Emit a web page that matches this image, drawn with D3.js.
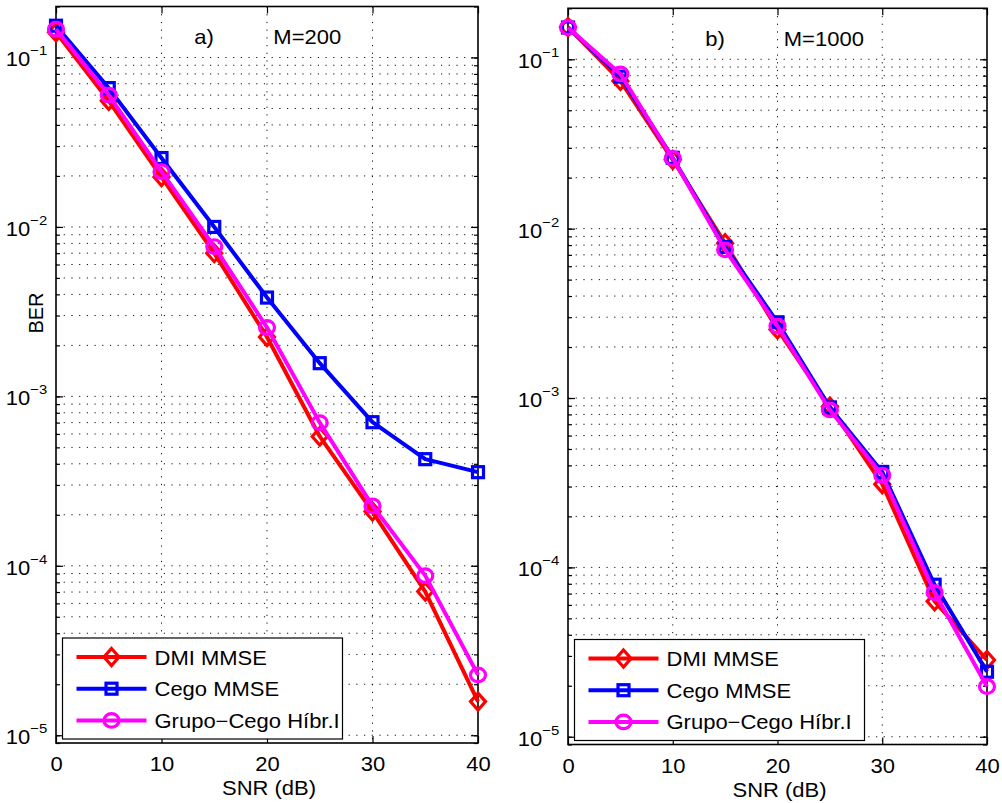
<!DOCTYPE html>
<html>
<head>
<meta charset="utf-8">
<script src="https://cdn.jsdelivr.net/npm/d3@7/dist/d3.min.js"></script>
<style>
  body { margin: 0; background: #fff; }
  svg { font-family: "Liberation Sans", Arial, Helvetica, sans-serif; }
</style>
</head>
<body>
<svg id="chart" width="1002" height="803"></svg>
<script>
// SNR values (dB)
var snr = [0, 5, 10, 15, 20, 25, 30, 35, 40];
var xTicks = [0, 10, 20, 30, 40];
var yMajor = [1e-5, 1e-4, 1e-3, 1e-2, 1e-1];
var seriesNames = ["DMI MMSE", "Cego MMSE", "Grupo\u2212Cego H\u00edbr.I"];

// a) M=200
var dmi200   = [0.141, 0.0555, 0.0197, 0.0070, 0.00224, 0.00058, 0.000209, 7.05e-5, 1.58e-5];
var cego200  = [0.154, 0.066, 0.0255, 0.0100, 0.00383, 0.00157, 0.000704, 0.000426, 0.000357];
var grupo200 = [0.147, 0.060, 0.0212, 0.00766, 0.00255, 0.00070, 0.000226, 8.75e-5, 2.27e-5];

// b) M=1000
var dmi1000   = [0.155, 0.0745, 0.0255, 0.0082, 0.00254, 0.00089, 0.00031, 6.3e-5, 2.84e-5];
var cego1000  = [0.154, 0.079, 0.0262, 0.0078, 0.0028, 0.00088, 0.000366, 7.9e-5, 2.42e-5];
var grupo1000 = [0.154, 0.0819, 0.026, 0.0075, 0.00266, 0.00085, 0.00035, 7.1e-5, 1.98e-5];

var colors = ["#ff0000", "#0000ff", "#ff00ff"];
var shapes = ["diamond", "square", "circle"];

var svg = d3.select("#chart");

// minor log values for the grid / minor ticks
var yMinor = [];
yMajor.forEach(function(m) {
    for (var k = 1; k <= 9; k++) yMinor.push(k * m);
});
yMinor.push(9e-6);

function stretch(sel) {
    // the source figure is slightly wider than tall
    return sel.attr("transform", "scale(1.1,1)");
}

function marker(g, shape, color, cx, cy) {
    if (shape == "diamond") {
        g.append("path")
            .attr("d", "M" + cx + "," + (cy - 8.5) + "L" + (cx + 7.5) + "," + cy +
                 "L" + cx + "," + (cy + 8.5) + "L" + (cx - 7.5) + "," + cy + "Z")
            .attr("fill", "none").attr("stroke", color).attr("stroke-width", 3.2);
    } else if (shape == "square") {
        g.append("rect")
            .attr("x", cx - 5.5).attr("y", cy - 5.5)
            .attr("width", 11).attr("height", 11)
            .attr("fill", "none").attr("stroke", color).attr("stroke-width", 3.2);
    } else {
        g.append("ellipse")
            .attr("cx", cx).attr("cy", cy).attr("rx", 7.5).attr("ry", 6.8)
            .attr("fill", "none").attr("stroke", color).attr("stroke-width", 3.2);
    }
}

function drawPanel(p) {
    var x = d3.scaleLinear().domain([0, 40]).range([p.x0, p.x1]);
    var y = d3.scaleLog().domain([9e-6, 0.2]).range([p.bottom, p.top]);
    var g = svg.append("g");

    // grid
    g.selectAll(".vgrid").data(xTicks.slice(1, -1)).enter().append("line")
        .attr("x1", function(d) { return x(d); }).attr("x2", function(d) { return x(d); })
        .attr("y1", p.top).attr("y2", p.bottom)
        .attr("stroke", "#111").attr("stroke-width", 1).attr("stroke-dasharray", "1.2,6.5");
    g.selectAll(".hgrid").data(yMinor.filter(function(d) { return d > 9.5e-6 && d < 0.19; }))
        .enter().append("line")
        .attr("x1", p.x0).attr("x2", p.x1)
        .attr("y1", function(d) { return y(d); }).attr("y2", function(d) { return y(d); })
        .attr("stroke", "#111").attr("stroke-width", 1).attr("stroke-dasharray", "1.2,6.5");

    // axes (ticks inward, box style)
    var xb = g.append("g").attr("transform", "translate(0," + p.bottom + ")")
        .call(d3.axisBottom(x).tickValues(xTicks).tickSizeInner(-7).tickSizeOuter(0).tickPadding(14));
    xb.selectAll("text").style("font-size", "20px").attr("fill", "#000").call(stretch);
    g.append("g").attr("transform", "translate(0," + p.top + ")")
        .call(d3.axisTop(x).tickValues(xTicks).tickSizeInner(-7).tickSizeOuter(0).tickFormat(""));

    var yl = g.append("g").attr("transform", "translate(" + p.x0 + ",0)")
        .call(d3.axisLeft(y).tickValues(yMajor).tickSizeInner(-7).tickSizeOuter(0).tickPadding(8));
    yl.selectAll(".tick text").text(null)
        .style("font-size", "20px").attr("fill", "#000").attr("dy", "0.42em")
        .call(stretch)
        .each(function(d) {
            var t = d3.select(this);
            t.append("tspan").text("10");
            t.append("tspan").attr("dy", -11).style("font-size", "13.5px")
                .text("\u2212" + Math.round(-Math.log10(d)));
        });
    g.append("g").attr("transform", "translate(" + p.x0 + ",0)")
        .call(d3.axisLeft(y).tickValues(yMinor).tickSizeInner(-4).tickSizeOuter(0).tickFormat(""));
    g.append("g").attr("transform", "translate(" + p.x1 + ",0)")
        .call(d3.axisRight(y).tickValues(yMajor).tickSizeInner(-7).tickSizeOuter(0).tickFormat(""));
    g.append("g").attr("transform", "translate(" + p.x1 + ",0)")
        .call(d3.axisRight(y).tickValues(yMinor).tickSizeInner(-4).tickSizeOuter(0).tickFormat(""));
    g.selectAll(".domain").remove();
    g.selectAll(".tick line").attr("stroke", "#000").attr("stroke-width", 1.2);

    g.append("rect")
        .attr("x", p.x0).attr("y", p.top)
        .attr("width", p.x1 - p.x0).attr("height", p.bottom - p.top)
        .attr("fill", "none").attr("stroke", "#000").attr("stroke-width", 1.6);

    // labels
    g.append("text")
        .attr("transform", "translate(" + ((p.x0 + p.x1) / 2 + 2) + "," + (p.bottom + 52) + ") scale(1.1,1)")
        .attr("text-anchor", "middle").style("font-size", "20px")
        .text("SNR (dB)");
    if (p.yLabel) {
        g.append("text")
            .attr("transform", "translate(43,313) rotate(-90)")
            .attr("text-anchor", "middle").style("font-size", "20px")
            .text("BER");
    }
    g.append("text")
        .attr("transform", "translate(" + x(13.1) + "," + y(0.12) + ") scale(1.1,1)")
        .style("font-size", "20px").text(p.letter);
    g.append("text")
        .attr("transform", "translate(" + x(20.6) + "," + y(0.12) + ") scale(1.1,1)")
        .style("font-size", "20px").text(p.label);

    // series
    var line = d3.line()
        .x(function(d, i) { return x(snr[i]); })
        .y(function(d) { return y(d); });
    p.series.forEach(function(s, k) {
        g.append("path").datum(s)
            .attr("d", line)
            .attr("fill", "none")
            .attr("stroke", colors[k])
            .attr("stroke-width", 4)
            .attr("stroke-linejoin", "round");
        s.forEach(function(v, i) {
            marker(g, shapes[k], colors[k], x(snr[i]), y(v));
        });
    });

    // legend
    var lg = g.append("g").attr("transform", "translate(" + (p.x0 + 6.5) + "," + (p.bottom - 105) + ")");
    lg.append("rect")
        .attr("width", p.legendW).attr("height", 101)
        .attr("fill", "#fff").attr("stroke", "#000").attr("stroke-width", 1.2);
    seriesNames.forEach(function(name, k) {
        var ry = 19 + k * 31.7;
        lg.append("line")
            .attr("x1", 14).attr("x2", 84).attr("y1", ry).attr("y2", ry)
            .attr("stroke", colors[k]).attr("stroke-width", 4);
        marker(lg, shapes[k], colors[k], 49, ry);
        lg.append("text")
            .attr("transform", "translate(92," + (ry + 7.5) + ") scale(1.1,1)")
            .style("font-size", "20px").text(name);
    });
}

drawPanel({ x0: 56, x1: 478, top: 6.5, bottom: 743, letter: "a)", label: "M=200",
            series: [dmi200, cego200, grupo200], legendW: 280, yLabel: true });
drawPanel({ x0: 568, x1: 987, top: 8.3, bottom: 744.5, letter: "b)", label: "M=1000",
            series: [dmi1000, cego1000, grupo1000], legendW: 290, yLabel: false });
</script>
</body>
</html>
